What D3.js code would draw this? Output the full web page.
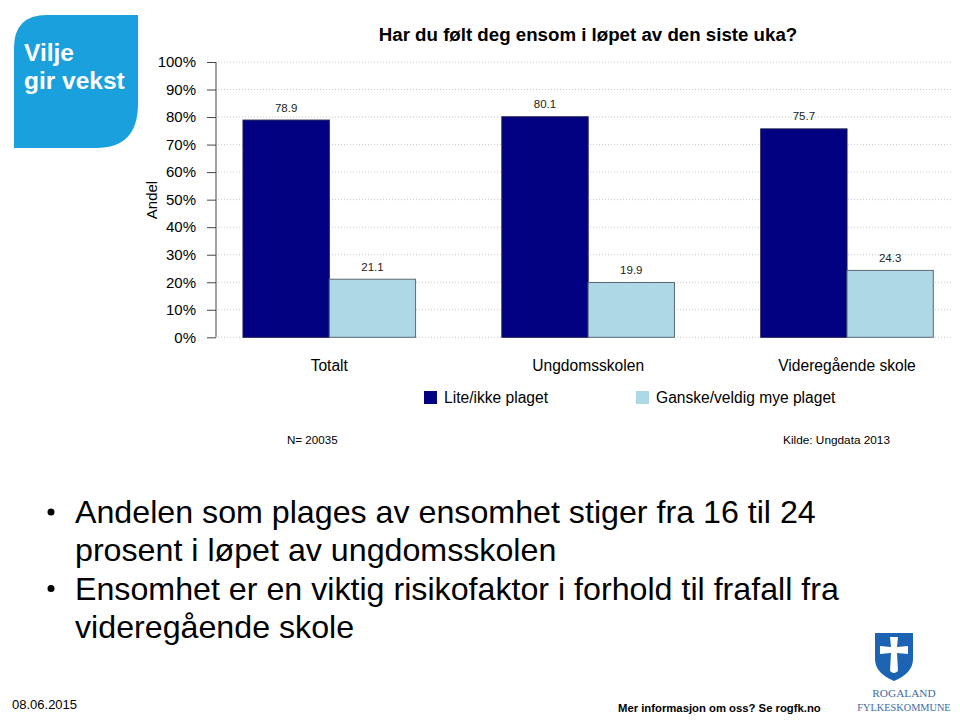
<!DOCTYPE html>
<html>
<head>
<meta charset="utf-8">
<style>
body { margin: 0; background: #fff; }
text { font-family: "Liberation Sans", Arial, sans-serif; fill: #000; }
.grid line { stroke: #c8c8c8; stroke-dasharray: 1,2; }
</style>
</head>
<body>
<script src="https://cdn.jsdelivr.net/npm/d3@7"></script>
<script>

// data
var categories = ["Totalt", "Ungdomsskolen", "Videregående skole"];
var seriesNames = ["Lite/ikke plaget", "Ganske/veldig mye plaget"];
var liteValues = [78.9, 80.1, 75.7];
var ganskeValues = [21.1, 19.9, 24.3];
var yTicks = [0, 10, 20, 30, 40, 50, 60, 70, 80, 90, 100];
var bullets = [
  ["Andelen som plages av ensomhet stiger fra 16 til 24", "prosent i løpet av ungdomsskolen"],
  ["Ensomhet er en viktig risikofaktor i forhold til frafall fra", "videregående skole"]
];

var colors = ["#000080", "#add8e6"];
var width = 960, height = 724;

var svg = d3.select("body").append("svg")
    .attr("width", width)
    .attr("height", height);

// "Vilje gir vekst" logo
var logo = svg.append("g");
logo.append("path")
    .attr("d", "M14,48 Q14,15 47,15 L138,15 L138,104 Q138,148 96,148 L14,148 Z")
    .attr("fill", "#1aa0dd");
logo.append("text").attr("x", 24).attr("y", 61)
    .style("font-size", "24.5px").style("font-weight", "bold").style("fill", "#fff")
    .text("Vilje");
logo.append("text").attr("x", 24).attr("y", 89)
    .style("font-size", "24.5px").style("font-weight", "bold").style("fill", "#fff")
    .text("gir vekst");

// chart
var x0 = d3.scaleBand().domain(categories).range([243, 933.3]).paddingInner(1/3).paddingOuter(0);
var x1 = d3.scaleBand().domain(seriesNames).range([0, x0.bandwidth()]);
var y = d3.scaleLinear().domain([0, 100]).range([337.3, 62]);

svg.append("text")
    .attr("x", 588).attr("y", 41)
    .attr("text-anchor", "middle")
    .style("font-size", "18.7px").style("font-weight", "bold")
    .text("Har du følt deg ensom i løpet av den siste uka?");

// grid
svg.append("g").attr("class", "grid")
  .selectAll("line").data(yTicks).enter().append("line")
    .attr("x1", 218).attr("x2", 952)
    .attr("y1", function(d) { return y(d); })
    .attr("y2", function(d) { return y(d); });

// y axis
var yAxis = d3.axisLeft(y).tickValues(yTicks).tickSize(9).tickPadding(11)
    .tickFormat(function(d) { return d + "%"; });
var ya = svg.append("g").attr("transform", "translate(216,0)").call(yAxis);
ya.select(".domain").attr("stroke", "#444").attr("d", "M0," + y(100) + "V" + y(0));
ya.selectAll(".tick line").attr("stroke", "#444");
ya.selectAll("text").style("font-size", "15px").attr("fill", "#000")
    .style("font-family", "'Liberation Sans', Arial, sans-serif");

svg.append("text")
    .attr("transform", "translate(157,200) rotate(-90)")
    .attr("text-anchor", "middle")
    .style("font-size", "15px")
    .text("Andel");

// bars
var rows = categories.map(function(c, i) {
  return { cat: c, values: [liteValues[i], ganskeValues[i]] };
});

var groups = svg.selectAll(".group").data(rows).enter().append("g")
    .attr("class", "group")
    .attr("transform", function(d) { return "translate(" + x0(d.cat) + ",0)"; });

var bars = groups.selectAll("g").data(function(d) {
  return d.values.map(function(v, j) { return { name: seriesNames[j], value: v, j: j }; });
}).enter().append("g");

bars.append("rect")
    .attr("x", function(d) { return x1(d.name); })
    .attr("y", function(d) { return y(d.value); })
    .attr("width", x1.bandwidth())
    .attr("height", function(d) { return y(0) - y(d.value); })
    .attr("fill", function(d) { return colors[d.j]; })
    .attr("stroke", function(d) { return d.j == 0 ? "#1a1a50" : "#5a6a70"; })
    .attr("stroke-width", 1);

bars.append("text")
    .attr("x", function(d) { return x1(d.name) + x1.bandwidth() / 2; })
    .attr("y", function(d) { return y(d.value) - 8.5; })
    .attr("text-anchor", "middle")
    .style("font-size", "11.5px")
    .style("fill", "#222")
    .text(function(d) { return d.value.toFixed(1); });

// category labels
svg.selectAll(".cat").data(categories).enter().append("text")
    .attr("x", function(d) { return x0(d) + x0.bandwidth() / 2; })
    .attr("y", 371)
    .attr("text-anchor", "middle")
    .style("font-size", "15.6px")
    .text(function(d) { return d; });

// legend
var legendX = [424, 636];
var legend = svg.selectAll(".legend").data(seriesNames).enter().append("g")
    .attr("transform", function(d, i) { return "translate(" + legendX[i] + ",391)"; });
legend.append("rect").attr("width", 13).attr("height", 13)
    .attr("fill", function(d, i) { return colors[i]; });
legend.append("text").attr("x", 20).attr("y", 12)
    .style("font-size", "15.6px")
    .text(function(d) { return d; });

svg.append("text").attr("x", 287).attr("y", 444)
    .style("font-size", "11.6px").text("N= 20035");
svg.append("text").attr("x", 890).attr("y", 444).attr("text-anchor", "end")
    .style("font-size", "11.8px").text("Kilde: Ungdata 2013");

// bullet text
var lineY = 523, lineStep = 38.3;
bullets.forEach(function(b) {
  svg.append("circle").attr("cx", 51).attr("cy", lineY - 11).attr("r", 3.5).attr("fill", "#000");
  b.forEach(function(line) {
    svg.append("text").attr("x", 75).attr("y", lineY)
        .style("font-size", "32.2px")
        .text(line);
    lineY += lineStep;
  });
});

// footer
svg.append("text").attr("x", 12).attr("y", 709)
    .style("font-size", "13px").text("08.06.2015");
svg.append("text").attr("x", 618).attr("y", 712)
    .style("font-size", "11.3px").style("font-weight", "bold")
    .text("Mer informasjon om oss? Se rogfk.no");

// Rogaland shield
var shield = svg.append("g").attr("transform", "translate(875,633)");
shield.append("path")
    .attr("d", "M0,0 L38,0 L38,26 Q38,40 19,48 Q0,40 0,26 Z")
    .attr("fill", "#1d63b3");
shield.append("path")
    .attr("d", "M15,4 L23,4 L22,14 L33,13 L33,21 L22,20 L23,38 Q19,42 15,38 L16,20 L5,21 L5,13 L16,14 Z")
    .attr("fill", "#fff");
svg.append("text").attr("x", 904).attr("y", 697).attr("text-anchor", "middle")
    .style("font-family", "'Liberation Serif', 'DejaVu Serif', serif")
    .style("font-size", "11.3px").style("fill", "#3e6aa3")
    .text("ROGALAND");
svg.append("text").attr("x", 904).attr("y", 711).attr("text-anchor", "middle")
    .style("font-family", "'Liberation Serif', 'DejaVu Serif', serif")
    .style("font-size", "10.3px").style("fill", "#3e6aa3")
    .text("FYLKESKOMMUNE");

</script>
</body>
</html>
